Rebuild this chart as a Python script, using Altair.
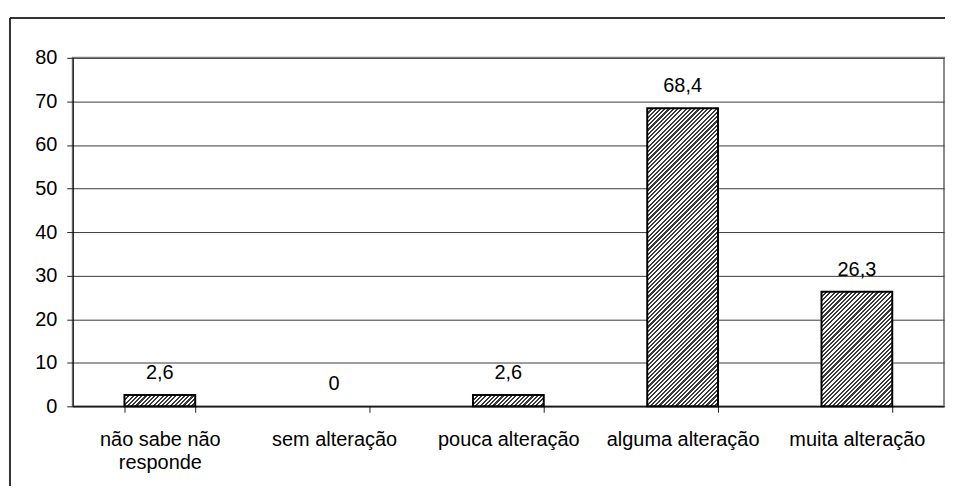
import altair as alt
import pandas as pd

# ---- data ----
categorias = ["não sabe não responde", "sem alteração", "pouca alteração",
              "alguma alteração", "muita alteração"]
valores = [2.6, 0, 2.6, 68.4, 26.3]
y_ticks = [0, 10, 20, 30, 40, 50, 60, 70, 80]

df = pd.DataFrame({"categoria": categorias, "valor": valores})

# ---- layout / style constants ----
W, H = 875, 350
Y_MAX = 80
PAD_INNER = 0.594
PAD_OUTER = PAD_INNER / 2
PERIOD = 4.3          # hatch period (px, horizontal)
DARK = "#3a3a3a"
LIGHT = "#ffffff"
FONT = "Liberation Sans"

step = W / (len(categorias) - PAD_INNER + 2 * PAD_OUTER)
bar_w = step * (1 - PAD_INNER)


def hatch(v):
    """Striped linear gradient giving 45deg '///' hatching for a bar of value v."""
    w = bar_w
    h = max(v / Y_MAX * H, 0.5)
    span = w + h
    a = span / (w + h * h / w)
    n = int(span / PERIOD) + 1
    stops = []
    for k in range(n):
        o0 = min(k * PERIOD / span, 1)
        o1 = min((k + 0.5) * PERIOD / span, 1)
        o2 = min((k + 1) * PERIOD / span, 1)
        stops += [
            {"offset": round(o0, 5), "color": DARK},
            {"offset": round(o1, 5), "color": DARK},
            {"offset": round(o1, 5), "color": LIGHT},
            {"offset": round(o2, 5), "color": LIGHT},
        ]
    return {"gradient": "linear", "x1": 0, "y1": 0,
            "x2": round(a, 6), "y2": round(a * h / w, 6), "stops": stops}


conds = [{"test": f"datum.valor == {v}", "value": hatch(v)}
         for v in sorted(set(valores)) if v > 0]
fill_def = {"value": LIGHT, "condition": conds}
stroke_def = {"value": "black",
              "condition": {"test": "datum.valor == 0", "value": "transparent"}}

x_enc = alt.X(
    "categoria:N", sort=categorias, title=None,
    scale=alt.Scale(paddingInner=PAD_INNER, paddingOuter=PAD_OUTER),
    axis=alt.Axis(
        labelAngle=0, tickBand="extent", tickSize=6, labelPadding=17,
        labelBaseline="top", labelLineHeight=23,
        labelExpr="datum.label == 'não sabe não responde' ? ['não sabe não', 'responde'] : datum.label",
        domainColor="black", tickColor="#222", labelColor="black",
        labelFont=FONT, labelFontSize=20, grid=False,
    ),
)
y_enc = alt.Y(
    "valor:Q", title=None,
    scale=alt.Scale(domain=[0, Y_MAX], nice=False),
    axis=alt.Axis(
        values=y_ticks, tickSize=6, labelPadding=10, grid=True,
        gridColor="#3a3a3a", gridWidth=1, domainColor="black",
        tickColor="#222", labelColor="black", labelFont=FONT, labelFontSize=20,
    ),
)

base = alt.Chart(df)

bars = base.mark_bar(strokeWidth=2).encode(
    x=x_enc, y=y_enc, fill=fill_def, stroke=stroke_def
)

labels = base.transform_calculate(
    rotulo="replace(toString(datum.valor), '.', ',')"
).mark_text(
    dy=-16, baseline="alphabetic", fontSize=20, font=FONT, color="black"
).encode(
    x=alt.X("categoria:N", sort=categorias),
    y=alt.Y("valor:Q"),
    text="rotulo:N",
)

frame_df = pd.DataFrame({"f": [0]})
frame_top = alt.Chart(frame_df).mark_rule(color="#333", strokeWidth=2).encode(
    x=alt.value(-63), x2=alt.value(W + 40), y=alt.value(-40)
)
frame_left = alt.Chart(frame_df).mark_rule(color="#333", strokeWidth=2).encode(
    x=alt.value(-63), y=alt.value(-40), y2=alt.value(H + 90)
)

chart = alt.layer(frame_top, frame_left, bars, labels).properties(
    width=W, height=H,
    autosize=alt.AutoSizeParams(type="none"),
    padding={"left": 65, "top": 49, "right": 1, "bottom": 79},
    background="white",
).configure_view(
    stroke="#8a8a8a", strokeWidth=2
)

chart.save("out.html", embed_options={"renderer": "svg", "actions": False})
